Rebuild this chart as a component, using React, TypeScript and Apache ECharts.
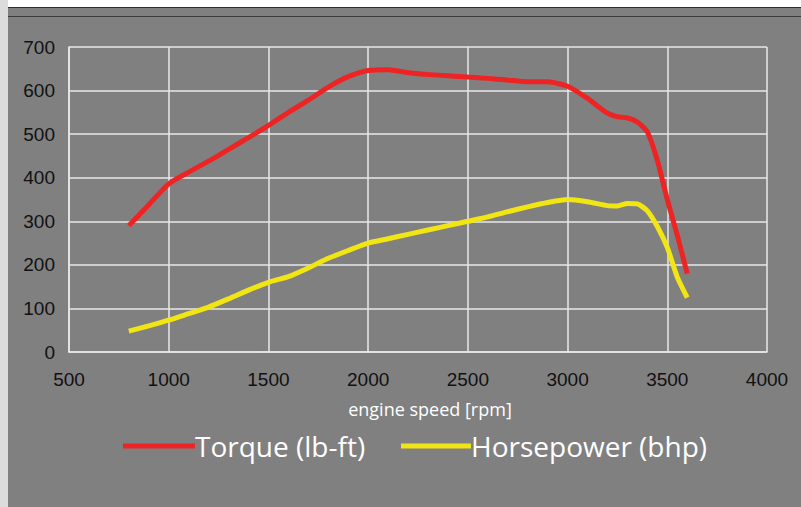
import React, { useEffect, useRef } from "react";
import * as echarts from "echarts";

const rpm = [800, 900, 1000, 1100, 1200, 1300, 1400, 1500, 1600, 1700, 1800, 1900, 2000, 2100, 2200, 2300, 2400, 2500, 2600, 2700, 2800, 2900, 3000, 3100, 3200, 3250, 3300, 3350, 3400, 3450, 3500, 3550, 3600];
const torque = [290, 338, 386, 413, 438, 465, 492, 520, 550, 578, 608, 632, 646, 648, 641, 637, 634, 631, 628, 624, 620, 620, 610, 582, 548, 540, 537, 528, 505, 440, 350, 268, 180];
const horsepower = [48, 60, 73, 88, 103, 122, 142, 160, 173, 193, 215, 233, 250, 260, 270, 280, 290, 300, 310, 322, 333, 343, 350, 345, 336, 335, 341, 340, 324, 288, 240, 172, 125];

const torqueName = "Torque (lb-ft)";
const hpName = "Horsepower (bhp)";
const xAxisName = "engine speed [rpm]";

export default function App() {
  const ref = useRef<HTMLDivElement>(null);
  useEffect(() => {
    if (!ref.current) return;
    const chart = echarts.init(ref.current, undefined, { renderer: "svg" });
    const gridColor = "#e8e8e8";
    chart.setOption({
      animation: false,
      backgroundColor: "#808080",
      graphic: [
        { type: "rect", shape: { x: 0, y: 0, width: 801, height: 7 }, style: { fill: "#ffffff" } },
        { type: "rect", shape: { x: 8, y: 7, width: 793, height: 1 }, style: { fill: "#2e2e2e" } },
        { type: "rect", shape: { x: 8, y: 16, width: 793, height: 1 }, style: { fill: "#3a3a3a" } },
        { type: "rect", shape: { x: 0, y: 0, width: 8, height: 507 }, style: { fill: "#dcdcdc" } },
      ],
      grid: { left: 69, right: 34, top: 47, bottom: 155, containLabel: false },
      legend: [
        {
          data: [torqueName],
          left: 123,
          top: 432,
          padding: 0,
          itemWidth: 72,
          itemHeight: 5,
          icon: "rect",
          textStyle: { color: "#ffffff", fontSize: 28, fontFamily: "Open Sans", padding: [0, 0, 0, -5] },
        },
        {
          data: [hpName],
          left: 401,
          top: 432,
          padding: 0,
          itemWidth: 70,
          itemHeight: 5,
          icon: "rect",
          textStyle: { color: "#ffffff", fontSize: 28, fontFamily: "Open Sans", padding: [0, 0, 0, -5] },
        },
      ],
      xAxis: {
        type: "value",
        min: 500,
        max: 4000,
        interval: 500,
        name: xAxisName,
        nameLocation: "middle",
        nameGap: 48,
        nameTextStyle: { color: "#ffffff", fontSize: 18, fontFamily: "Open Sans", padding: [0, 0, 0, 24] },
        axisLine: { show: true, lineStyle: { color: gridColor, width: 1.5 } },
        axisTick: { show: false },
        axisLabel: { color: "#111111", fontSize: 19, fontFamily: "Liberation Sans", margin: 18, formatter: (v: number) => String(v) },
        splitLine: { show: true, lineStyle: { color: gridColor, width: 1.5 } },
      },
      yAxis: {
        type: "value",
        min: 0,
        max: 700,
        interval: 100,
        axisLine: { show: true, lineStyle: { color: gridColor, width: 1.5 } },
        axisTick: { show: false },
        axisLabel: { color: "#111111", fontSize: 19, fontFamily: "Liberation Sans", margin: 14 },
        splitLine: { show: true, lineStyle: { color: gridColor, width: 1.5 } },
      },
      series: [
        {
          name: torqueName,
          type: "line",
          data: rpm.map((r, i) => [r, torque[i]]),
          smooth: 0.2,
          showSymbol: false,
          symbol: "none",
          lineStyle: { color: "#ee2424", width: 5, cap: "butt" },
          itemStyle: { color: "#ee2424" },
        },
        {
          name: hpName,
          type: "line",
          data: rpm.map((r, i) => [r, horsepower[i]]),
          smooth: 0.2,
          showSymbol: false,
          symbol: "none",
          lineStyle: { color: "#f2e514", width: 5, cap: "butt" },
          itemStyle: { color: "#f2e514" },
        },
      ],
    });
    return () => chart.dispose();
  }, []);
  return (
    <div
      ref={ref}
      style={{ position: "absolute", left: 0, top: 0, width: 801, height: 507 }}
    />
  );
}
